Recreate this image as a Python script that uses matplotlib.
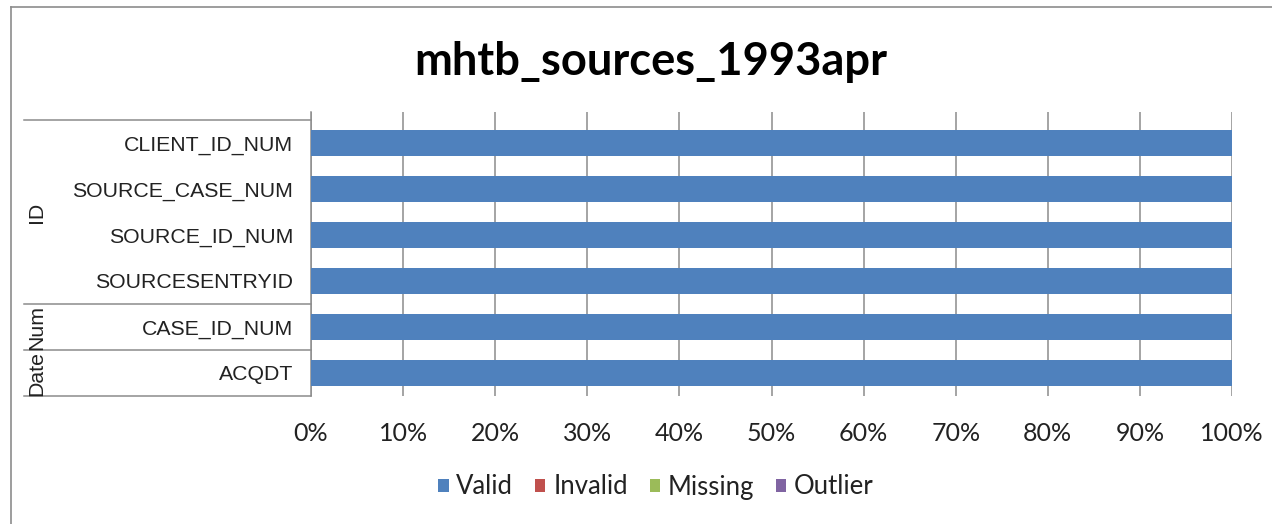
import matplotlib.pyplot as plt
from matplotlib.patches import Patch
from matplotlib.lines import Line2D

# Dati (percentuali per colonna), dal basso verso l'alto
columns = ['ACQDT', 'CASE_ID_NUM', 'SOURCESENTRYID', 'SOURCE_ID_NUM', 'SOURCE_CASE_NUM', 'CLIENT_ID_NUM']
groups = ['Date', 'Num', 'ID']
group_sizes = [1, 1, 4]
valid = [100, 100, 100, 100, 100, 100]
invalid = [0, 0, 0, 0, 0, 0]
missing = [0, 0, 0, 0, 0, 0]
outlier = [0, 0, 0, 0, 0, 0]
series_names = ['Valid', 'Invalid', 'Missing', 'Outlier']
colors = ['#4F81BD', '#C0504D', '#9BBB59', '#8064A2']
xticks = [0, 10, 20, 30, 40, 50, 60, 70, 80, 90, 100]

W, H = 1272, 524
fig = plt.figure(figsize=(W / 100, H / 100), dpi=100)
ax = fig.add_axes([311 / W, (H - 396) / H, (1232 - 311) / W, (396 - 112) / H])

ypos = list(range(len(columns)))
left = [0] * len(columns)
for name, vals, col in zip(series_names, [valid, invalid, missing, outlier], colors):
    ax.barh(ypos, vals, left=left, height=0.57, color=col, label=name, zorder=3)
    left = [a + b for a, b in zip(left, vals)]

ax.set_xlim(0, 100)
ax.set_ylim(-0.5, 5.5 + 8 / 46)
ax.set_xticks(xticks)
ax.set_xticklabels([f'{t}%' for t in xticks], family='Lato', fontsize=18, color='#222222')
ax.tick_params(axis='x', length=0, pad=18.5)
ax.set_yticks(ypos)
ax.set_yticklabels(columns, family='Liberation Sans', fontsize=15.3, color='#222222')
ax.tick_params(axis='y', length=0, pad=13)
ax.grid(axis='x', color='#8c8c8c', linewidth=1.1, zorder=0)
for s in ['top', 'right', 'bottom']:
    ax.spines[s].set_visible(False)
ax.spines['left'].set_color('#8c8c8c')
ax.spines['left'].set_linewidth(1.1)

# tabella delle categorie a sinistra (gruppi)
x0 = (24 - 311) / (1232 - 311)
trans = ax.get_yaxis_transform()
bound = -0.5
ax.plot([x0, 0], [bound, bound], transform=trans, color='#8c8c8c', lw=1.1, clip_on=False)
for g, n in zip(groups, group_sizes):
    top = bound + n
    ax.plot([x0, 0], [top, top], transform=trans, color='#8c8c8c', lw=1.1, clip_on=False)
    ax.text((37 - 311) / (1232 - 311), (bound + top) / 2, g, transform=trans, rotation=90,
            ha='center', va='center', family='Liberation Sans', fontsize=15.3, color='#222222')
    bound = top

fig.text(651 / W, 1 - 62 / H, 'mhtb_sources_1993apr', ha='center', va='center',
         family='Lato', fontweight='bold', fontsize=32.6, color='black')

handles = [Patch(facecolor=c, edgecolor='none') for c in colors]
fig.legend(handles, series_names, loc='center', bbox_to_anchor=(656 / W, 1 - 487 / H), ncol=4,
           frameon=False, prop={'family': 'Lato', 'size': 18.5}, handlelength=0.4, handleheight=0.4,
           handletextpad=0.3, columnspacing=0.85, labelcolor='#222222')

# bordo del grafico (solo lati visibili)
fig.add_artist(Line2D([11 / W, 11 / W], [0, 1 - 7 / H], transform=fig.transFigure, color='#8c8c8c', lw=1.2))
fig.add_artist(Line2D([11 / W, 1], [1 - 7 / H, 1 - 7 / H], transform=fig.transFigure, color='#8c8c8c', lw=1.2))

fig.savefig('out.png', dpi=100, facecolor='white')
